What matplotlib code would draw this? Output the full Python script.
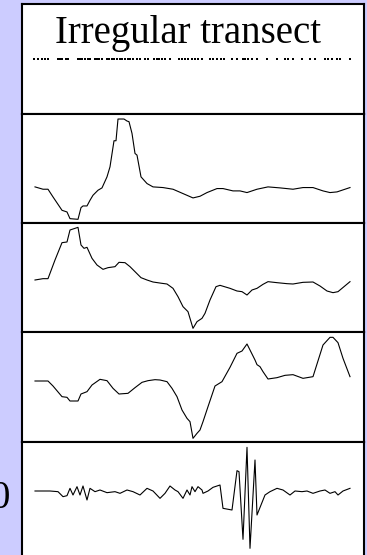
import matplotlib
matplotlib.use("Agg")
import matplotlib.pyplot as plt
import numpy as np

# sample positions along the transect (m), irregularly spaced
transect_x = [-1, 3, 7, 10, 13, 23, 25, 27, 31, 33, 43, 45, 47, 50, 53, 55, 60, 62, 64, 67,
              72, 74, 77, 79, 82, 85, 87, 90, 93, 95, 98, 102, 105, 110, 113, 119, 122, 124,
              127, 130, 135, 144, 147, 150, 153, 157, 160, 163, 167, 175, 178, 182, 186, 189,
              197, 202, 208, 210, 213, 217, 222, 232, 242, 250, 253, 258, 267, 275, 280, 290,
              293, 297, 302, 305, 315]

# trace 1
x1 = [0, 8, 13, 18, 27, 32, 35, 43, 46, 48, 52, 55, 58, 63, 67, 72, 75, 79, 81, 83, 89, 92,
      94, 97, 100, 102, 106, 112, 118, 128, 138, 148, 158, 165, 172, 182, 188, 198, 205, 212,
      222, 233, 245, 258, 268, 278, 288, 295, 302, 315]
y1 = [-5.5, -6.2, -6.2, -8.5, -12.5, -13.0, -15.0, -15.2, -11.7, -11.2, -11.2, -9.5, -8.0,
      -6.5, -5.8, -2.5, 0.5, 8.3, 8.3, 14.8, 14.8, 14.2, 14.0, 10.5, 4.5, 4.0, -2.5, -4.5,
      -5.5, -5.7, -6.2, -7.5, -8.8, -8.3, -7.2, -6.0, -6.0, -6.7, -6.7, -7.2, -6.2, -5.5,
      -5.8, -6.2, -5.7, -5.7, -6.7, -7.2, -7.0, -5.7]

# trace 2
x2 = [0, 8, 13, 20, 27, 32, 35, 40, 43, 46, 49, 52, 57, 62, 68, 73, 80, 84, 90, 95, 100, 106,
      112, 118, 127, 132, 138, 143, 148, 153, 158, 162, 167, 170, 175, 181, 185, 195, 202, 207,
      212, 217, 222, 228, 233, 242, 252, 258, 268, 278, 285, 292, 298, 303, 315]
y2 = [-0.6, -0.2, -0.2, 5.4, 10.6, 10.8, 14.4, 14.9, 15.2, 9.9, 8.9, 9.2, 5.9, 3.9, 2.6, 3.1,
      3.4, 4.7, 4.6, 3.4, 1.9, 0.1, -0.6, -1.2, -1.6, -1.8, -3.1, -5.6, -8.6, -10.1, -15.1,
      -13.1, -12.1, -10.6, -6.6, -2.6, -2.2, -3.1, -3.9, -4.1, -5.1, -3.6, -3.1, -1.9, -1.1,
      -1.4, -1.7, -1.8, -1.3, -1.2, -2.4, -3.9, -4.4, -4.1, -1.1]

# trace 3
x3 = [0, 13, 18, 27, 32, 35, 43, 46, 52, 57, 65, 72, 78, 84, 93, 100, 107, 113, 120, 125, 132,
      137, 142, 147, 152, 155, 158, 162, 165, 168, 173, 180, 187, 195, 202, 207, 212, 217, 220,
      222, 225, 228, 233, 242, 250, 258, 268, 278, 288, 295, 298, 303, 308, 315]
y3 = [2.1, 2.1, 0.6, -2.6, -2.8, -3.9, -3.9, -1.8, -1.1, 0.9, 2.6, 2.2, -0.1, -1.8, -1.6, 0.1,
      1.7, 2.2, 2.5, 2.4, 1.9, -0.1, -2.6, -6.6, -9.1, -10.1, -15.1, -13.6, -12.6, -10.1, -5.6,
      0.6, 1.9, 6.2, 10.4, 11.1, 13.2, 10.2, 8.4, 7.0, 6.4, 4.9, 2.7, 3.1, 3.8, 4.0, 2.9, 3.4,
      12.9, 15.2, 15.2, 13.6, 8.9, 3.4]

# trace 4
x4 = [0, 15, 23, 28, 32, 35, 38, 42, 45, 48, 52, 55, 60, 65, 72, 80, 85, 92, 98, 105, 112, 118,
      125, 130, 135, 140, 143, 148, 152, 155, 157, 160, 163, 167, 168, 173, 178, 185, 188, 197,
      202, 204, 208, 212, 215, 220, 222, 230, 235, 242, 248, 255, 260, 267, 272, 278, 285, 290,
      295, 300, 303, 308, 315]
y4 = [1.8, 1.8, 1.6, 0.1, 0.4, 2.6, 0.6, 3.1, 0.6, 3.3, -0.9, 2.6, 1.6, 2.1, 1.3, 1.6, 1.1,
      2.1, 1.6, 0.6, 2.6, 1.8, -0.4, 1.1, 3.3, 2.1, 1.6, -0.4, 2.1, 0.6, 3.1, 1.6, 3.1, 2.1,
      1.1, 1.8, 2.9, 3.6, -3.4, -3.9, 7.9, 7.6, -12.7, 14.9, -15.4, 11.1, -5.4, 0.6, 1.6, 2.6,
      2.1, 0.6, 1.8, 1.6, 1.8, 1.1, 1.8, 2.1, 1.1, 1.6, 0.6, 1.8, 2.6]

traces = [(x1, y1), (x2, y2), (x3, y3), (x4, y4)]

W, H = 367, 555
fig = plt.figure(figsize=(W / 100, H / 100), dpi=100)
fig.patch.set_facecolor("#ccccff")

# panel edges in pixels from the top of the figure
left, right = 22, 364
edges = [4, 114, 223, 332, 442, 560]
ylims = [(0, 1), (-16.3, 16.3), (-16.2, 16.5), (-16.2, 16.8), (-18.9, 16.5)]
xlim = (-13, 329)

axes = []
for i in range(5):
    top, bot = edges[i], edges[i + 1]
    ax = fig.add_axes([left / W, 1 - bot / H, (right - left) / W, (bot - top) / H])
    ax.set_facecolor("white")
    ax.set_xlim(*xlim)
    ax.set_ylim(*ylims[i])
    ax.set_xticks([])
    ax.set_yticks([])
    for s in ax.spines.values():
        s.set_linewidth(1.5)
        s.set_color("black")
    axes.append(ax)

# sampling points along the transect
axes[0].plot(transect_x, [0.5] * len(transect_x), ls="none", marker="s",
             markersize=1.5, color="black", markeredgewidth=0)

for ax, (x, y) in zip(axes[1:], traces):
    ax.plot(x, y, color="black", lw=0.8)

fig.text(188 / W, 1 - 43 / H, "Irregular transect", family="Liberation Serif",
         fontsize=28, ha="center", va="baseline")
fig.text(-9 / W, 1 - 508 / H, "0", family="Liberation Serif",
         fontsize=28, ha="left", va="baseline")

fig.savefig("out.png", dpi=100, facecolor=fig.get_facecolor())
